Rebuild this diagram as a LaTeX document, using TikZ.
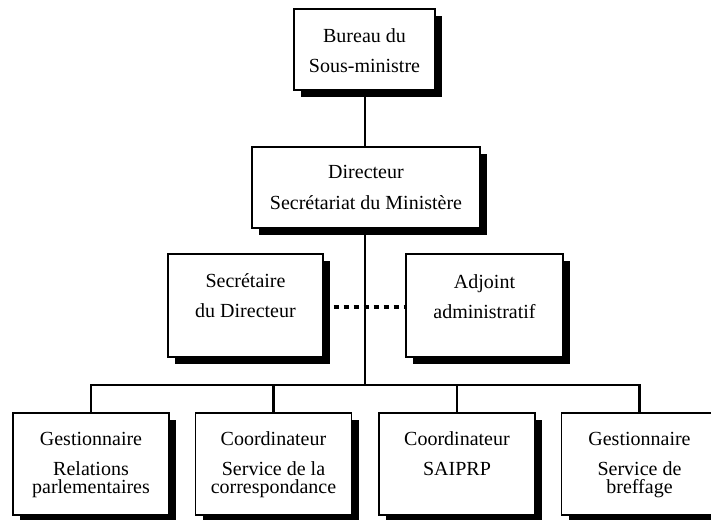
\documentclass[tikz,border=0pt]{standalone}
\usepackage{fontspec}
\setmainfont{Liberation Serif}
\usetikzlibrary{shadows}
\newcommand\fls{\rule{0pt}{12pt}}
\begin{document}
\begin{tikzpicture}[x=0.75pt,y=-0.75pt,
  orgbox/.style={draw=black, line width=1.1pt, fill=white, inner sep=0pt,
    general shadow={fill=black, shadow xshift=5.25pt, shadow yshift=-5.25pt}},
  lbl/.style={anchor=north, inner sep=0pt, align=center,
    font=\fontsize{15pt}{13.9pt}\selectfont},
  link/.style={line width=2pt},
  dotlink/.style={line width=3pt, dash pattern=on 4.2pt off 3.3pt}]
\useasboundingbox (0,0) rectangle (711,519);
% connectors
\coordinate (busL) at (91,385);
\coordinate (busR) at (639.5,385);
\coordinate (busM) at (365,385);
\node[orgbox, minimum width=105.75pt, minimum height=60.75pt] (top) at (364.5,49.5) {};
\node[orgbox, minimum width=171pt, minimum height=60.75pt] (dir) at (366,187.5) {};
\draw[link] (top.south -| busM) -- (dir.north -| busM);
\draw[link] (dir.south -| busM) -- (busM);
\draw[link, line cap=rect] (busL) -- (busR);
\node[orgbox, minimum width=116.25pt, minimum height=77.25pt] (sec) at (245.5,305.5) {};
\node[orgbox, minimum width=117.75pt, minimum height=77.25pt] (adj) at (484.5,305.5) {};
\draw[dotlink] (sec.east |- 0,307) -- (adj.west |- 0,307);
\node[orgbox, minimum width=117pt, minimum height=76.5pt] (b1) at (91,464) {};
\node[orgbox, minimum width=117pt, minimum height=76.5pt] (b2) at (273.5,464) {};
\node[orgbox, minimum width=117pt, minimum height=76.5pt] (b3) at (457,464) {};
\node[orgbox, minimum width=117pt, minimum height=76.5pt] (b4) at (639.5,464) {};
\draw[link] (busL) -- (b1.north);
\draw[link] (b2.north |- busL) -- (b2.north);
\draw[link] (b3.north |- busL) -- (b3.north);
\draw[link] (busR) -- (b4.north);
% texts
\node[lbl] (ttop) at (364.5,26) {\fls Bureau du\\[8.6pt] Sous-ministre};
\node[lbl] (tdir) at (366,162) {\fls Directeur\\[9.35pt] Secrétariat du Ministère};
\node[lbl] (tsec) at (245.5,271) {\fls Secrétaire\\[8.6pt] du Directeur};
\node[lbl] (tadj) at (484.5,272) {\fls Adjoint\\[8.6pt] administratif};
\node[lbl] (tb1) at (91,429) {\fls Gestionnaire\\[8.6pt] Relations\\ parlementaires};
\node[lbl] (tb2) at (273.5,429) {\fls Coordinateur\\[8.6pt] Service de la\\ correspondance};
\node[lbl] (tb3) at (457,429) {\fls Coordinateur\\[8.6pt] SAIPRP};
\node[lbl] (tb4) at (639.5,429) {\fls Gestionnaire\\[8.6pt] Service de\\ breffage};
\end{tikzpicture}
\end{document}
